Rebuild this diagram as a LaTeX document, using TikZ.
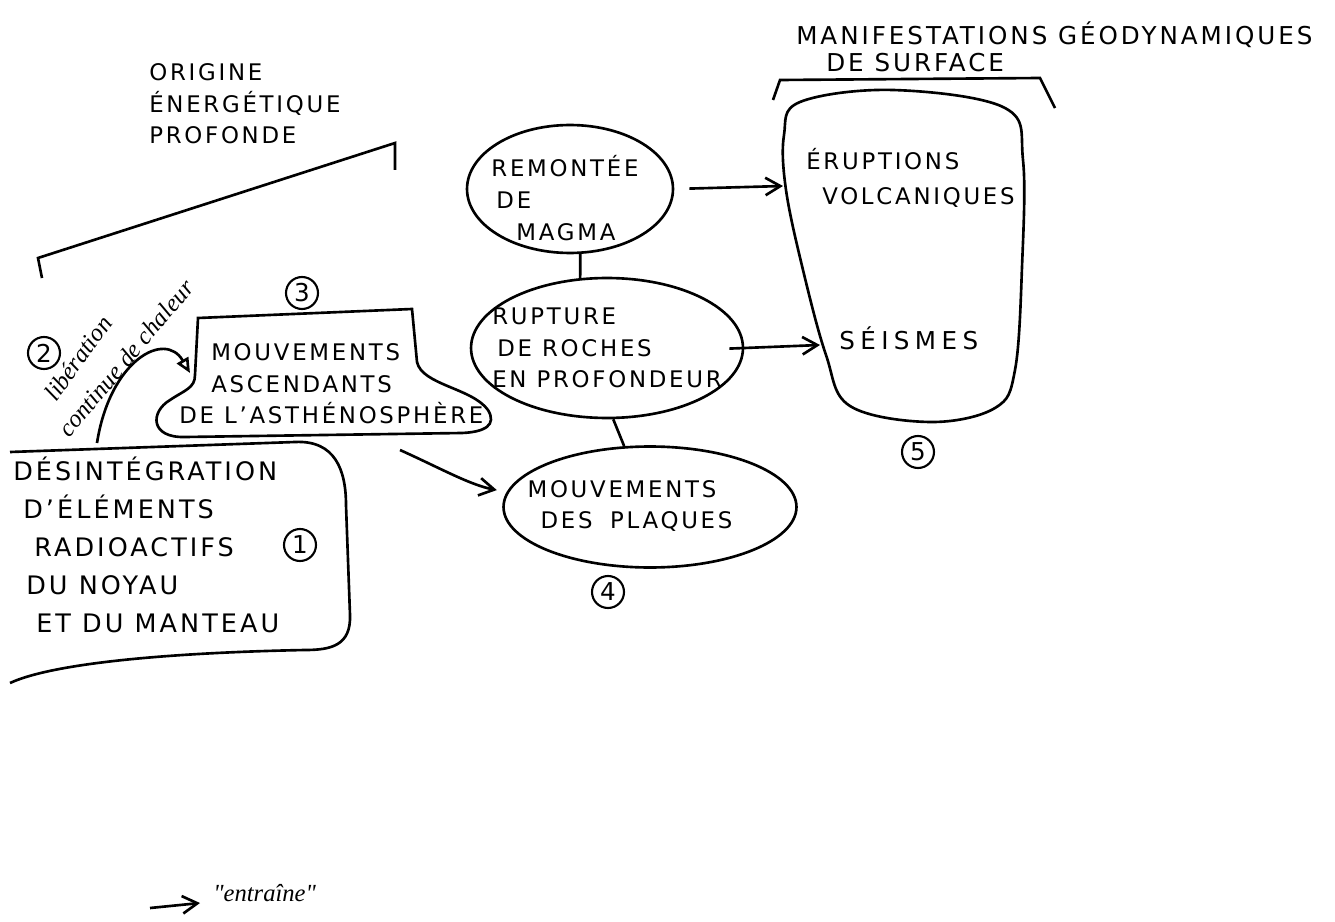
\documentclass[tikz,border=0pt]{standalone}
\usepackage{fontspec}
\setmainfont{DejaVu Sans}[LetterSpace=12]
\newfontfamily\handfont{Liberation Serif}[Ligatures=TeXOff]
\usetikzlibrary{arrows.meta,shapes.geometric}

\begin{document}
\begin{tikzpicture}[x=0.02cm, y=-0.02cm, line width=1.5pt,
    caps/.style={font=\fontsize{13}{18}\selectfont, align=left, inner sep=0pt},
    bulle/.style={draw, ellipse, inner sep=0pt},
    numero/.style={draw, circle, minimum size=0.64cm, inner sep=0pt, line width=1.2pt, font=\fontsize{14}{14}\selectfont},
    entraine/.style={-{Straight Barb[length=3mm,width=3.5mm]}},
    cursive/.style={font=\handfont\itshape\fontsize{14}{16}\selectfont, inner sep=0pt}]
    \useasboundingbox (0,0) rectangle (1335,922);

    % Origine energetique profonde
    \node[caps, anchor=west] (origine) at (148,104) {ORIGINE\\ÉNERGÉTIQUE\\PROFONDE};
    \draw (42,278) -- (38,258) -- (395,143) -- (395,170);

    % Desintegration (1)
    \draw (10,452) -- (295,442) .. controls (335,440) and (346,470) .. (346,505)
        -- (350,615) .. controls (351,645) and (332,650) .. (305,650)
        .. controls (200,652) and (60,660) .. (10,683);
    \node[caps, anchor=west, font=\fontsize{14.5}{21.6}\selectfont] (desint) at (12,545)
        {DÉSINTÉGRATION\\\hspace*{0.2cm}D'ÉLÉMENTS\\\hspace*{0.42cm}RADIOACTIFS\\\hspace*{0.26cm}DU NOYAU\\\hspace*{0.46cm}ET DU MANTEAU};
    \node[numero] (n1) at (300,545) {1};

    % Liberation de chaleur (2)
    \coordinate (depart) at (97,443);
    \coordinate (arrivee) at (190,373);
    \draw[-{Triangle[open,length=3mm,width=2.6mm]}] (depart) .. controls (110,360) and (165,330) .. (arrivee);
    \node[cursive, rotate=54] (liberation) at (78,358) {libération};
    \node[cursive, rotate=50] (chaleur) at (126,358) {continue de chaleur};
    \node[numero] (n2) at (44,353) {2};

    % Mouvements ascendants (3)
    \draw (195,375) -- (198,318) -- (412,309) -- (417,362)
        .. controls (422,385) and (472,388) .. (488,410)
        .. controls (497,425) and (485,432) .. (462,433) -- (185,437)
        .. controls (150,438) and (150,412) .. (170,400)
        .. controls (185,390) and (195,388) .. (195,375);
    \node[caps, anchor=west] (asth) at (178,384)
        {\hspace*{0.64cm}MOUVEMENTS\\\hspace*{0.64cm}ASCENDANTS\\DE L'ASTHÉNOSPHÈRE};
    \node[numero] (n3) at (302,293) {3};

    % Ellipses du milieu
    \node[bulle, minimum width=4.12cm, minimum height=2.56cm] (remontee) at (570,189) {};
    \node[caps] (remontee-t) at (565,198) {REMONTÉE\\\hspace*{0.1cm}DE\\\hspace*{0.5cm}MAGMA};
    \node[bulle, minimum width=5.44cm, minimum height=2.8cm] (rupture) at (607,348) {};
    \node[caps] (rupture-t) at (rupture) {RUPTURE\\\hspace*{0.1cm}DE ROCHES\\EN PROFONDEUR};
    \node[bulle, minimum width=5.86cm, minimum height=2.42cm] (plaques) at (650,507) {};
    \node[caps] (plaques-t) at (630,506) {MOUVEMENTS\\\hspace*{0.26cm}DES \hspace{0.15cm}PLAQUES};
    \node[numero] (n4) at (608,592) {4};
    \draw (remontee.-81) -- (rupture.111);
    \draw (rupture.-85) -- (plaques.113);

    % 3 entraine 4
    \coordinate (c34) at (400,450);
    \draw[entraine, shorten >=0.2cm] (c34) .. controls (440,468) and (470,485) .. (plaques.174);

    % Manifestations de surface (5)
    \node[caps, anchor=west, font=\fontsize{14}{18}\selectfont] (manif) at (795,35) {MANIFESTATIONS GÉODYNAMIQUES};
    \node[caps, anchor=west, font=\fontsize{14}{18}\selectfont] (surface) at (825,63) {DE SURFACE};
    \draw (773,100) -- (780,80) -- (1040,78) -- (1055,108);
    \draw plot[smooth cycle, tension=0.6] coordinates {(784,135) (800,102) (893,90) (1005,108) (1023,160)
        (1022,267) (1015,370) (995,408) (930,422) (850,406) (826,355) (803,270) (786,190)};
    \node[caps, anchor=west] (eruptions) at (805,178) {ÉRUPTIONS\\[2pt]\hspace*{0.32cm}VOLCANIQUES};
    \node[caps, anchor=west, font=\fontsize{14}{18}\selectfont\addfontfeature{LetterSpace=22}] (seismes) at (838,338) {SÉISMES};
    \node[numero] (n5) at (918,452) {5};
    \coordinate (v5) at (783,186);
    \coordinate (s5) at (820,345);
    \draw[entraine, shorten <=0.3cm] (remontee.east) -- (v5);
    \draw[entraine, shorten <=-0.3cm] (rupture.east) -- (s5);

    % Legende
    \coordinate (leg-a) at (150,908);
    \coordinate (leg-b) at (200,903);
    \draw[entraine] (leg-a) -- (leg-b);
    \node[cursive, anchor=west] (legende) at (212,893) {"entraîne"};
\end{tikzpicture}
\end{document}
